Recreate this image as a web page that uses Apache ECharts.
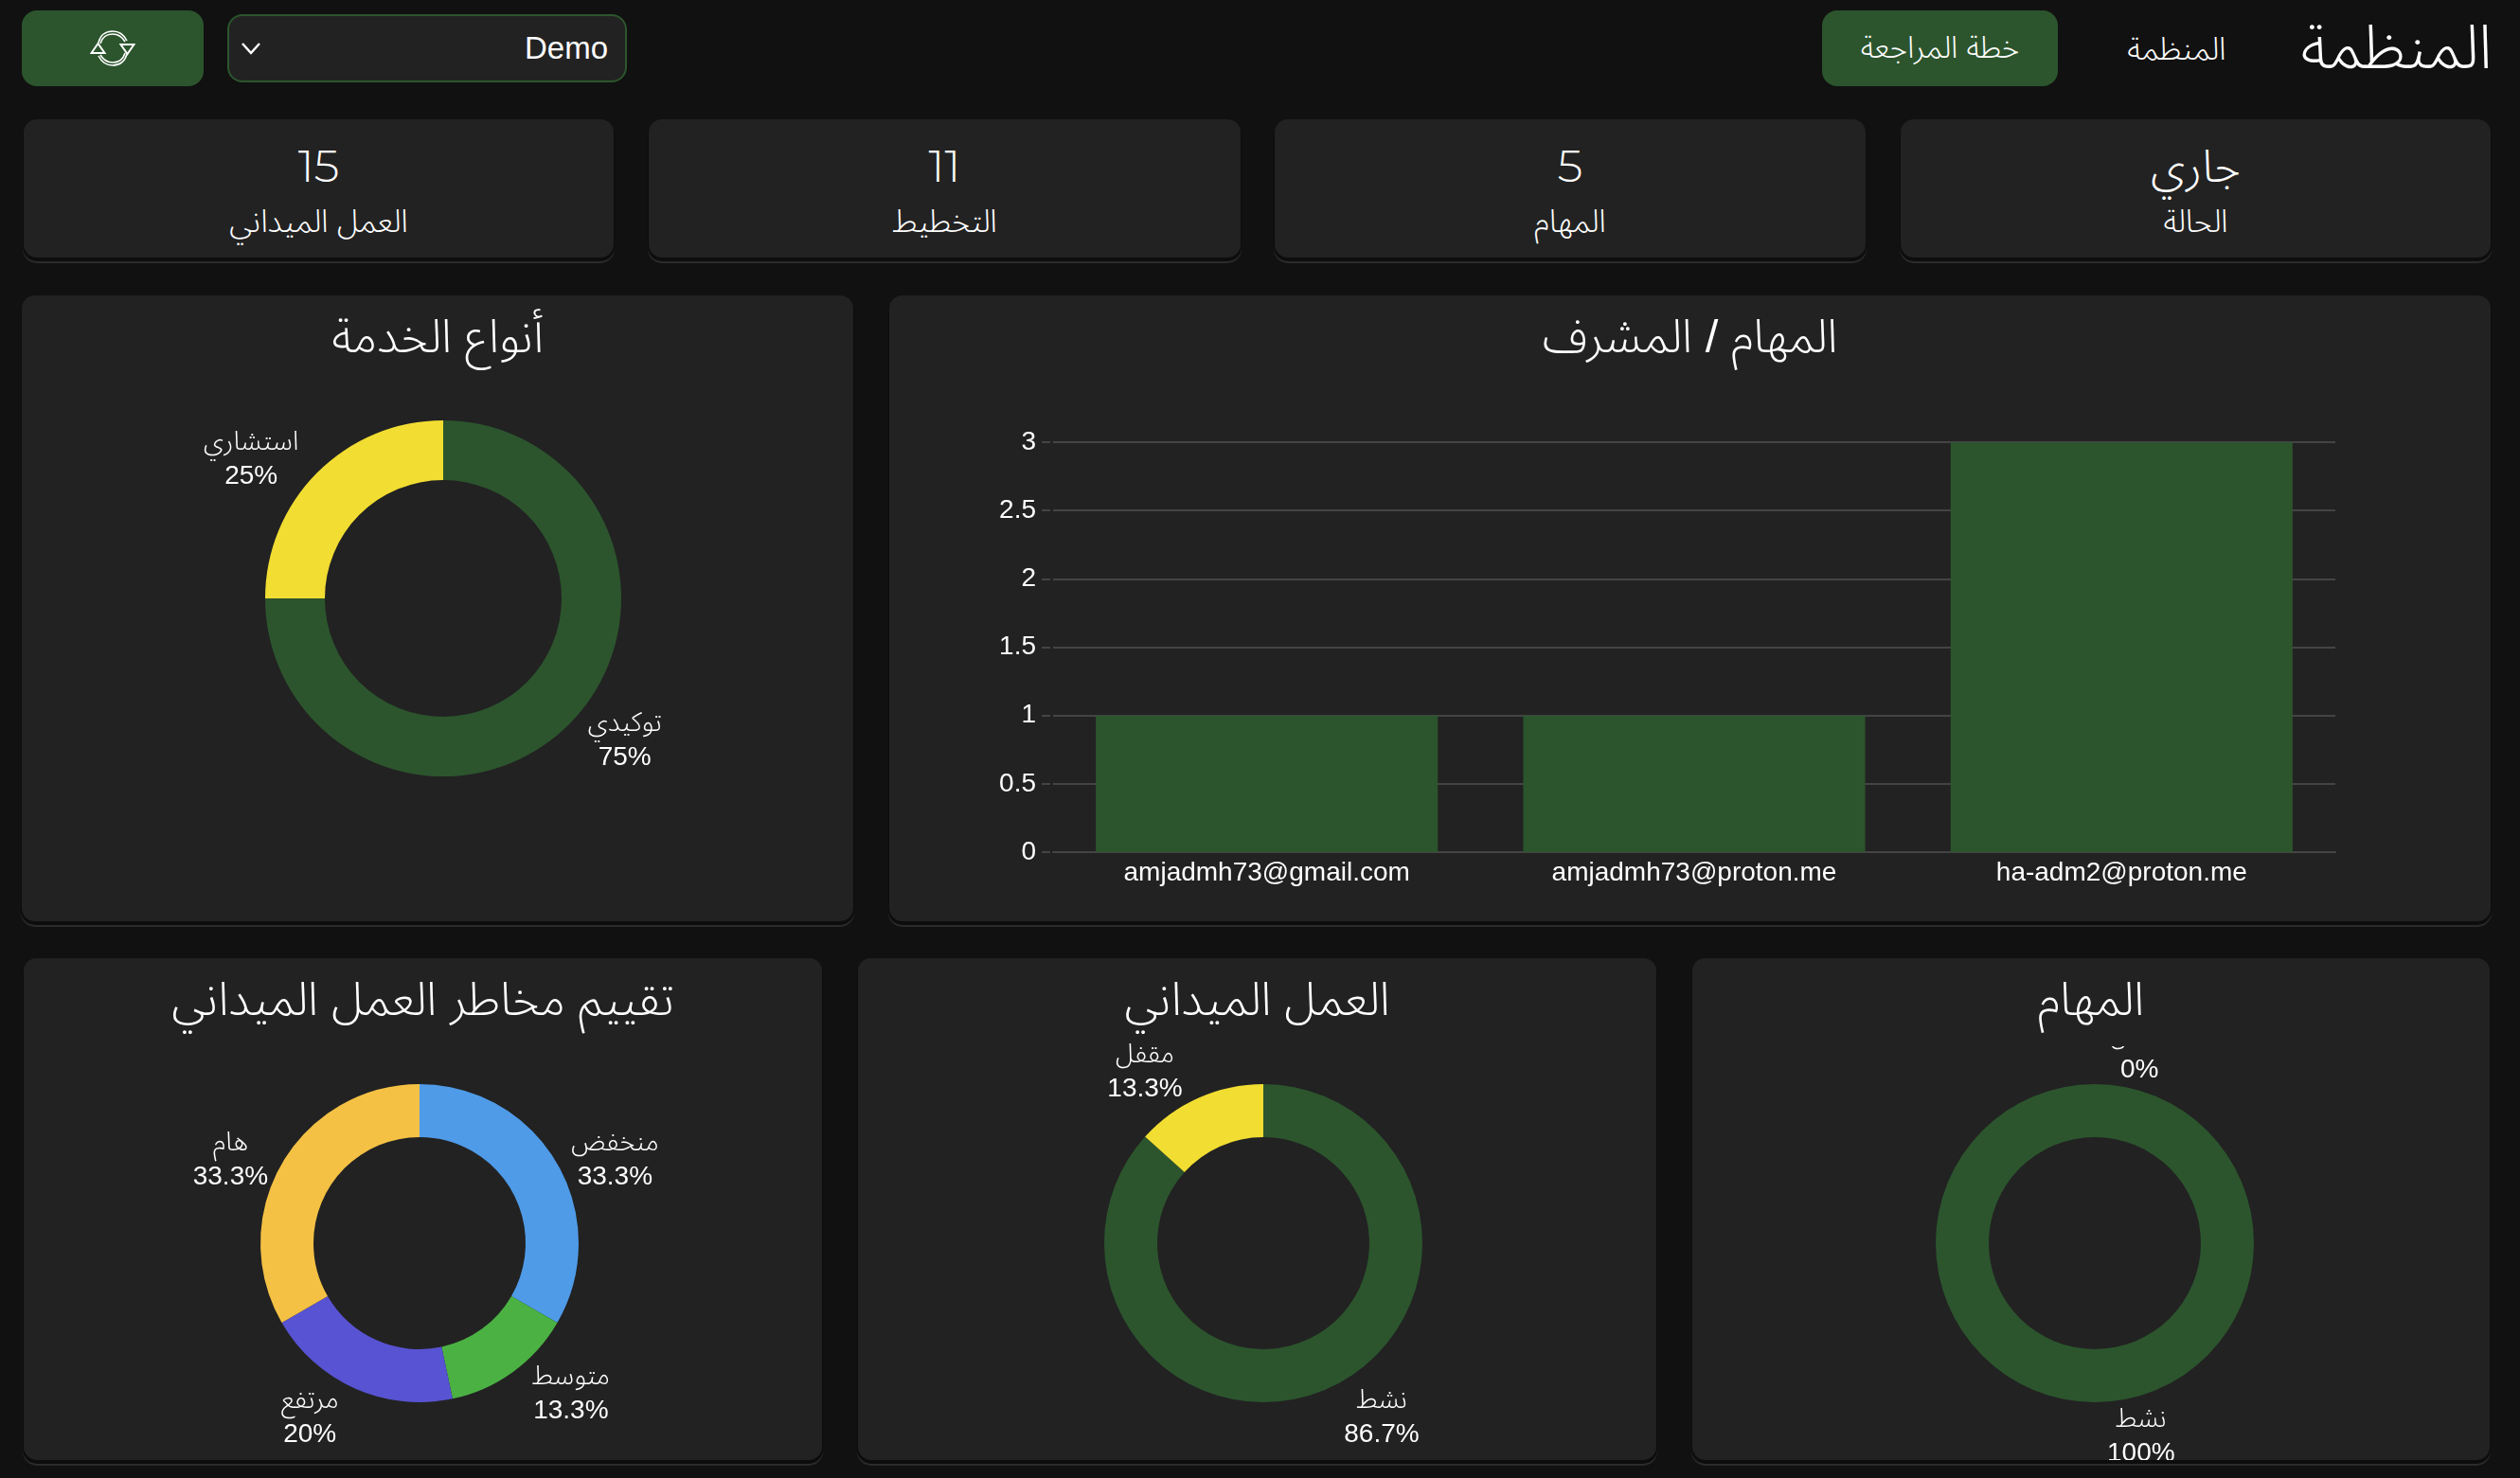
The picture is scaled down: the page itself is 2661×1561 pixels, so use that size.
<!DOCTYPE html>
<html lang="ar">
<head>
    <meta charset="UTF-8">
    <title>المنظمة</title>
    <script src="https://cdn.jsdelivr.net/npm/echarts@6/dist/echarts.min.js"></script>
    <style>
        html, body { margin: 0; padding: 0; width: 2661px; height: 1561px; overflow: hidden; background: #111111; color: #fff; font-family: "Liberation Sans", "Noto Sans Arabic", sans-serif; font-weight: 340; }
        .box { position: absolute; box-sizing: border-box; }
        .card { background: #222222; border-radius: 14px; box-shadow: 0 3px 0 1px #0d0d0d, 0 5px 0 1px #2b2b2b; }
        .btn { background: #2c552d; border-radius: 16px; display: flex; align-items: center; justify-content: center; font-size: 32px; }
        .sel { background: #222222; border: 2px solid #2c552d; border-radius: 16px; font-size: 33px; display: flex; align-items: center; justify-content: space-between; padding: 0 18px 0 12px; }
        .stat { text-align: center; }
        .stat .v { position: absolute; left: 0; right: 0; top: 14px; font-size: 48px; line-height: 70px; font-family: Montserrat, "Noto Sans Arabic", sans-serif; font-weight: 300; }
        .stat .k { position: absolute; left: 0; right: 0; top: 85px; font-size: 33px; line-height: 46px; }
        .chart { position: absolute; }
    </style>
</head>
<body>
<div class="box btn" style="left:23px;top:11px;width:192px;height:80px;">
    <svg width="48" height="38" viewBox="0 0 48 38" fill="none" stroke="#fff" stroke-width="1.6">
        <path d="M9 13C11 5 17 1 24 1C31 1 36 5 39 11M11 14C13 7 18 4 24 4C30 4 34 7 37 12"/>
        <path d="M39 25C37 33 31 37 24 37C17 37 12 33 9 27M37 24C35 31 30 34 24 34C18 34 14 31 11 26"/>
        <path d="M1.5 24H15.5L8.5 14ZM32.5 15H46.5L39.5 25Z" stroke-width="2"/>
    </svg>
</div>
<div class="box sel" style="left:240px;top:15px;width:422px;height:72px;">
    <svg width="22" height="14" viewBox="0 0 22 14" fill="none" stroke="#fff" stroke-width="2.5"><path d="M2 2L11 12L20 2"/></svg>
    <span>Demo</span>
</div>
<div class="box btn" style="left:1924px;top:11px;width:249px;height:80px;">خطة المراجعة</div>
<div class="box" style="left:2246px;top:18px;font-size:33px;">المنظمة</div>
<div class="box" style="left:2429px;top:12px;font-size:64px;line-height:76px;">المنظمة</div>

<div id="stats"></div>
<div id="panels"></div>

<script>
    // top cards
    const statValues = ['15', '11', '5', 'جاري'];
    const statNames = ['العمل الميداني', 'التخطيط', 'المهام', 'الحالة'];

    // bar chart
    const barTitle = 'المهام / المشرف';
    const supervisors = ['amjadmh73@gmail.com', 'amjadmh73@proton.me', 'ha-adm2@proton.me'];
    const supervisorTasks = [1, 1, 3];

    // donuts
    const serviceNames = ['توكيدي', 'استشاري'];
    const serviceValues = [3, 1];
    const riskNames = ['منخفض', 'متوسط', 'مرتفع', 'هام'];
    const riskValues = [5, 2, 3, 5];
    const fieldNames = ['نشط', 'مقفل'];
    const fieldValues = [13, 2];
    const taskNames = ['مقفل', 'نشط'];
    const taskValues = [0, 5];

    const GREEN = '#2c552d', YELLOW = '#f2dd32', CARD = '#222222';
    const FONT = 'Liberation Sans, Noto Sans Arabic, sans-serif';
    const riskColors = ['#4f9be8', '#4bb143', '#5853d2', '#f4c144'];

    const statBoxes = [[25, 623], [685, 625], [1346, 624], [2007, 623]];
    const statsEl = document.getElementById('stats');
    statValues.forEach((v, i) => {
        const [x, w] = statBoxes[i];
        const d = document.createElement('div');
        d.className = 'box card stat';
        d.style.cssText = `left:${x}px;top:126px;width:${w}px;height:146px;`;
        d.innerHTML = `<div class="v">${v}</div><div class="k">${statNames[i]}</div>`;
        statsEl.appendChild(d);
    });

    function makePanel(x, y, w, h) {
        const p = document.createElement('div');
        p.className = 'box card';
        p.style.cssText = `left:${x}px;top:${y}px;width:${w}px;height:${h}px;`;
        const c = document.createElement('div');
        c.className = 'chart';
        c.style.cssText = `left:0;top:0;width:${w}px;height:${h}px;`;
        p.appendChild(c);
        document.getElementById('panels').appendChild(p);
        return echarts.init(c);
    }

    function titleOpt(text) {
        return { text, left: 'center', top: 17, zlevel: 2, textStyle: { color: '#fff', fontSize: 49, fontWeight: 330, fontFamily: FONT } };
    }

    // label distance grows toward the top and bottom of the ring
    function labelLength(midShare) {
        return 12 + 48 * (Math.abs(Math.cos(midShare * 2 * Math.PI)) - 0.5);
    }

    function donut(box, title, names, values, colors, center, radius, maskHeight) {
        const total = values.reduce((a, b) => a + b, 0);
        let sum = 0;
        const ec = makePanel(...box);
        ec.setOption({
            animation: false,
            title: titleOpt(title),
            // the page hides whatever label climbs above the plot, under the heading
            graphic: maskHeight ? [{ type: 'rect', zlevel: 1, shape: { x: 0, y: 0, width: box[2], height: maskHeight, r: [14, 14, 0, 0] }, style: { fill: CARD } }] : [],
            series: [{
                type: 'pie',
                center,
                radius,
                startAngle: 90,
                clockwise: true,
                avoidLabelOverlap: false,
                itemStyle: { borderWidth: 0 },
                label: {
                    show: true,
                    position: 'outside',
                    formatter: p => `{a|${p.name}}\n{a|${+(p.value / total * 100).toFixed(1)}%}`,
                    rich: { a: { color: '#fff', fontSize: 28, fontWeight: 350, lineHeight: 36, align: 'center', fontFamily: FONT } }
                },
                // a whole ring and an empty slice both sit just right of the top/bottom point
                labelLayout: p => {
                    if (values[p.dataIndex] === 0) return { dx: p.labelRect.width + 20, dy: 3 };
                    if (values[p.dataIndex] === total) return { dx: 9 };
                    return { dy: 2 };
                },
                labelLine: { show: false, length: 12, length2: -1 },
                data: names.map((n, i) => {
                    const mid = (sum + values[i] / 2) / total;
                    sum += values[i];
                    return { name: n, value: values[i], itemStyle: { color: colors[i] }, labelLine: { show: false, length: labelLength(mid), length2: -1 } };
                })
            }]
        });
    }

    donut([23, 312, 878, 661], 'أنواع الخدمة', serviceNames, serviceValues, [GREEN, YELLOW], [445, 320], [125, 188]);
    donut([25, 1012, 843, 530], 'تقييم مخاطر العمل الميداني', riskNames, riskValues, riskColors, [418, 301], [112, 168], 88);
    donut([906, 1012, 843, 530], 'العمل الميداني', fieldNames, fieldValues, [GREEN, YELLOW], [428, 301], [112, 168], 88);
    donut([1787, 1012, 842, 530], 'المهام', taskNames, taskValues, [YELLOW, GREEN], [425, 301], [112, 168], 93);

    const barChart = makePanel(939, 312, 1691, 661);
    barChart.setOption({
        animation: false,
        title: titleOpt(barTitle),
        grid: { left: 173, right: 164, top: 155, bottom: 73 },
        xAxis: {
            type: 'category',
            data: supervisors,
            axisTick: { show: false },
            axisLine: { lineStyle: { color: '#444', width: 2 } },
            axisLabel: { color: '#fff', fontSize: 28, margin: 8, fontFamily: FONT }
        },
        yAxis: {
            type: 'value',
            min: 0,
            max: 3,
            interval: 0.5,
            offset: 3,
            axisLine: { show: false },
            axisTick: { show: true, length: 9, lineStyle: { color: '#444', width: 2 } },
            splitLine: { lineStyle: { color: '#444', width: 2 } },
            axisLabel: { color: '#fff', fontSize: 28, margin: 15, padding: [3, 0, 0, 0], fontFamily: FONT }
        },
        series: [{
            type: 'bar',
            data: supervisorTasks,
            barCategoryGap: '20%',
            itemStyle: { color: GREEN }
        }]
    });
</script>
</body>
</html>
